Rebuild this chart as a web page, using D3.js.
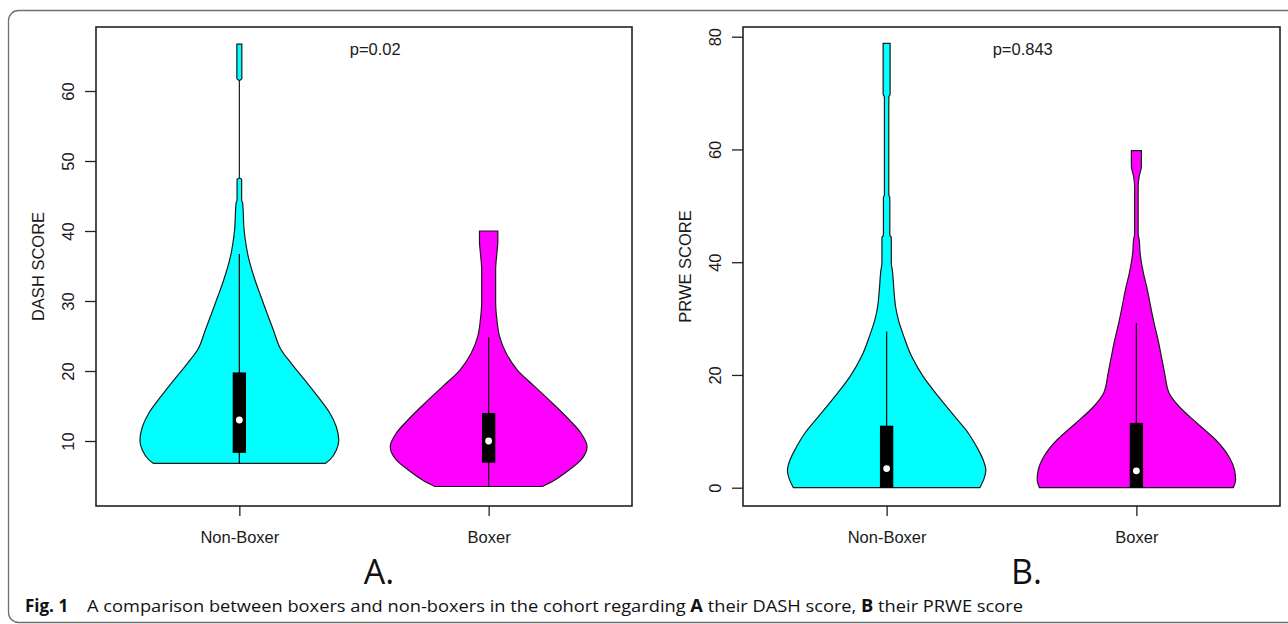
<!DOCTYPE html>
<html>
<head>
<meta charset="utf-8">
<script src="https://cdn.jsdelivr.net/npm/d3@7"></script>
<style>
  body { margin: 0; background: #fff; }
  .rtext { font-family: "Liberation Sans", Arial, sans-serif; fill: #1a1a1a; }
  .cap { font-family: "Open Sans", "Noto Sans", sans-serif; fill: #111; }
</style>
</head>
<body>
<div id="chart"></div>
<script>
// groups and colours
var groups = ["Non-Boxer", "Boxer"];
var groupColors = ["#00ffff", "#ff00ff"];

// violin outlines: [score, relative half width]
var dashNonBoxer = [
  [6.8, 0.86], [7.3, 0.907], [8.7, 0.973], [10.1, 0.997], [12.0, 0.973],
  [14.0, 0.907], [16.3, 0.79], [18.7, 0.657], [21.1, 0.52], [23.0, 0.42],
  [25.9, 0.34], [30.6, 0.217], [33.0, 0.157], [36.3, 0.09], [40.1, 0.048],
  [44.0, 0.033], [44.4, 0.023], [47.4, 0.023], [47.6, 0], [61.4, 0],
  [61.8, 0.025], [66.7, 0.025]
];
var dashBoxer = [
  [3.5, 0.54], [4.4, 0.66], [5.9, 0.81], [7.3, 0.927], [9.2, 0.987],
  [11.1, 0.927], [13.0, 0.81], [15.4, 0.64], [17.8, 0.46], [20.1, 0.29],
  [22.5, 0.177], [24.9, 0.11], [27.3, 0.083], [29.7, 0.07], [34.5, 0.07],
  [36.9, 0.083], [38.5, 0.092], [40.0, 0.092]
];
var prweNonBoxer = [
  [0, 0.933], [1.7, 0.977], [3.1, 0.993], [4.9, 0.967], [7.3, 0.90],
  [9.7, 0.817], [12.6, 0.683], [16.2, 0.517], [19.7, 0.367], [23.3, 0.25],
  [26.8, 0.173], [29.8, 0.117], [32.1, 0.09], [35.1, 0.073], [38.6, 0.057],
  [39.8, 0.047], [44.4, 0.047], [44.8, 0.032], [51.5, 0.032], [51.9, 0.022],
  [69.3, 0.022], [69.8, 0.035], [78.8, 0.035]
];
var prweBoxer = [
  [0, 0.97], [1.4, 0.993], [3.1, 0.983], [5.5, 0.927], [8.5, 0.793],
  [11.4, 0.61], [14.4, 0.427], [16.8, 0.327], [20.3, 0.283], [23.3, 0.25],
  [26.2, 0.217], [29.2, 0.177], [32.1, 0.143], [35.1, 0.11], [38.1, 0.07],
  [41.6, 0.037], [44.0, 0.028], [45.0, 0.018], [53.5, 0.018], [55.2, 0.028],
  [57.0, 0.05], [59.8, 0.05]
];

// box stats: [min, q1, median, q3, upper whisker]
var dashStats = [[6.8, 8.3, 13.0, 19.8, 36.7], [3.5, 6.9, 10.0, 14.0, 24.8]];
var prweStats = [[0, 0, 3.4, 11.0, 27.7], [0, 0, 3.0, 11.5, 29.2]];

var dashTicks = [10, 20, 30, 40, 50, 60];
var prweTicks = [0, 20, 40, 60, 80];

var svgWidth = 1288;
var svgHeight = 624;

var svg = d3.select("#chart")
  .append("svg")
  .attr("width", svgWidth)
  .attr("height", svgHeight);

// outer figure frame
svg.append("rect")
  .attr("x", 8.5)
  .attr("y", 10.5)
  .attr("width", 1320)
  .attr("height", 612)
  .attr("rx", 10)
  .attr("fill", "none")
  .attr("stroke", "#707070")
  .attr("stroke-width", 1.3);

var panels = [
  { left: 96, right: 632, top: 27, bottom: 506, yDomain: [10, 60], yRange: [441, 91],
    ticks: dashTicks, violins: [dashNonBoxer, dashBoxer], stats: dashStats,
    yLabel: "DASH SCORE", pText: "p=0.02", letter: "A." },
  { left: 743, right: 1280, top: 27, bottom: 506, yDomain: [0, 80], yRange: [487.7, 36.7],
    ticks: prweTicks, violins: [prweNonBoxer, prweBoxer], stats: prweStats,
    yLabel: "PRWE SCORE", pText: "p=0.843", letter: "B." }
];

var violinWidth = 0.4;   // in group units
var boxWidth = 0.0535;

panels.forEach(function(p) {
  var x = d3.scaleLinear().domain([-0.575, 1.575]).range([p.left, p.right]);
  var y = d3.scaleLinear().domain(p.yDomain).range(p.yRange);
  var g = svg.append("g");

  // violins
  p.violins.forEach(function(v, i) {
    var half = x(violinWidth) - x(0);
    var area = d3.area()
      .y(d => y(d[0]))
      .x0(d => x(i) - d[1] * half)
      .x1(d => x(i) + d[1] * half)
      .curve(d3.curveMonotoneY);
    g.append("path")
      .datum(v)
      .attr("d", area)
      .attr("fill", groupColors[i])
      .attr("stroke", "#1a1a1a")
      .attr("stroke-width", 1.2);
  });

  // inner boxplots
  p.stats.forEach(function(s, i) {
    g.append("line")
      .attr("x1", x(i)).attr("x2", x(i))
      .attr("y1", y(s[0])).attr("y2", y(s[4]))
      .attr("stroke", "#111")
      .attr("stroke-width", 1.3);
    var bw = x(boxWidth) - x(0);
    g.append("rect")
      .attr("x", x(i) - bw / 2)
      .attr("y", y(s[3]))
      .attr("width", bw)
      .attr("height", y(s[1]) - y(s[3]))
      .attr("fill", "#000");
    g.append("circle")
      .attr("cx", x(i))
      .attr("cy", y(s[2]))
      .attr("r", 3.4)
      .attr("fill", "#fff");
  });

  // plot box
  g.append("rect")
    .attr("x", p.left)
    .attr("y", p.top)
    .attr("width", p.right - p.left)
    .attr("height", p.bottom - p.top)
    .attr("fill", "none")
    .attr("stroke", "#222")
    .attr("stroke-width", 1.6);

  // y axis, R style (rotated labels)
  var yAxis = g.append("g")
    .attr("transform", `translate(${p.left}, 0)`)
    .call(d3.axisLeft(y).tickValues(p.ticks).tickSize(11).tickFormat(d3.format("d")));
  yAxis.select(".domain").remove();
  yAxis.selectAll("line").attr("stroke", "#222").attr("stroke-width", 1.3);
  yAxis.selectAll("text")
    .attr("class", "rtext")
    .attr("x", null)
    .attr("dy", "0.36em")
    .attr("transform", "translate(-28,0) rotate(-90)")
    .attr("text-anchor", "middle")
    .attr("font-size", "16.5px")
    .attr("font-family", null);

  // x axis
  var xAxis = g.append("g")
    .attr("transform", `translate(0, ${p.bottom})`)
    .call(d3.axisBottom(x).tickValues([0, 1]).tickSize(10).tickFormat((d, i) => groups[i]));
  xAxis.select(".domain").remove();
  xAxis.selectAll("line").attr("stroke", "#222").attr("stroke-width", 1.3);
  xAxis.selectAll("text")
    .attr("class", "rtext")
    .attr("y", 37)
    .attr("dy", 0)
    .attr("font-size", "16.5px")
    .attr("font-family", null);

  // y label
  g.append("text")
    .attr("class", "rtext")
    .attr("transform", `translate(${p.left - 52}, ${(p.top + p.bottom) / 2}) rotate(-90)`)
    .attr("text-anchor", "middle")
    .attr("font-size", "16.5px")
    .text(p.yLabel);

  // p value
  g.append("text")
    .attr("class", "rtext")
    .attr("x", x(0.545))
    .attr("y", 55)
    .attr("text-anchor", "middle")
    .attr("font-size", "16.5px")
    .text(p.pText);

  // panel letter
  g.append("text")
    .attr("class", "cap")
    .attr("x", x(0.56))
    .attr("y", 584)
    .attr("text-anchor", "middle")
    .attr("font-size", "34px")
    .text(p.letter);
});

// caption
svg.append("text")
  .attr("class", "cap")
  .attr("x", 25)
  .attr("y", 612)
  .attr("font-size", "17px")
  .attr("font-weight", "bold")
  .text("Fig. 1");

var cap = svg.append("text")
  .attr("class", "cap")
  .attr("x", 87)
  .attr("y", 612)
  .attr("font-size", "17px")
  .attr("textLength", 936)
  .attr("lengthAdjust", "spacingAndGlyphs");
cap.append("tspan").text("A comparison between boxers and non-boxers in the cohort regarding ");
cap.append("tspan").attr("font-weight", "bold").text("A");
cap.append("tspan").text(" their DASH score, ");
cap.append("tspan").attr("font-weight", "bold").text("B");
cap.append("tspan").text(" their PRWE score");
</script>
</body>
</html>
